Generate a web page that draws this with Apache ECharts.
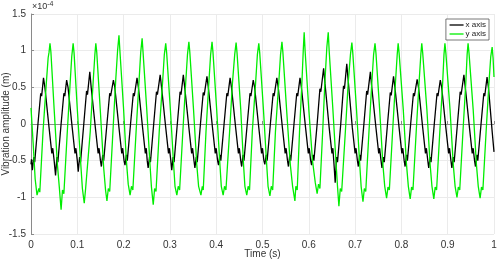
<!DOCTYPE html>
<html>
<head>
<meta charset="utf-8">
<script src="https://cdn.jsdelivr.net/npm/echarts@6/dist/echarts.min.js"></script>
<style>
  html, body { margin: 0; padding: 0; background: #fff; }
  #vib { width: 498px; height: 261px; }
</style>
</head>
<body>
<div id="vib"></div>
<script>
// amplitudes in units of 1e-4 m, [time (s), amplitude]
var xAxisSignal = [
  [0.000,-0.55],[0.001,-0.48],[0.003,-0.63],[0.006,-0.45],[0.008,-0.52],[0.015,0.0],[0.021,0.42],[0.023,0.38],[0.027,0.63],[0.030,0.5],[0.039,-0.05],[0.045,-0.4],[0.047,-0.33],[0.050,-0.5],
  [0.053,-0.70],[0.056,-0.45],[0.058,-0.52],[0.065,0.0],[0.071,0.42],[0.073,0.38],[0.077,0.60],[0.080,0.5],[0.089,-0.05],[0.095,-0.4],[0.097,-0.33],[0.100,-0.5],
  [0.102,-0.65],[0.105,-0.45],[0.107,-0.52],[0.114,0.0],[0.120,0.45],[0.122,0.40],[0.127,0.71],[0.130,0.5],[0.139,-0.05],[0.145,-0.4],[0.147,-0.33],[0.150,-0.5],
  [0.152,-0.58],[0.155,-0.42],[0.157,-0.5],[0.164,0.0],[0.170,0.42],[0.172,0.38],[0.178,0.60],[0.181,0.5],[0.190,-0.05],[0.196,-0.4],[0.198,-0.33],[0.201,-0.5],
  [0.203,-0.56],[0.206,-0.42],[0.208,-0.5],[0.215,0.0],[0.221,0.42],[0.223,0.38],[0.229,0.63],[0.232,0.5],[0.241,-0.05],[0.247,-0.4],[0.249,-0.33],[0.251,-0.5],
  [0.253,-0.60],[0.256,-0.45],[0.258,-0.52],[0.265,0.0],[0.271,0.44],[0.273,0.40],[0.279,0.67],[0.282,0.5],[0.291,-0.05],[0.297,-0.4],[0.299,-0.33],[0.302,-0.5],
  [0.304,-0.63],[0.307,-0.45],[0.309,-0.52],[0.316,0.0],[0.322,0.44],[0.324,0.40],[0.329,0.67],[0.332,0.5],[0.341,-0.05],[0.347,-0.4],[0.349,-0.33],[0.352,-0.5],
  [0.354,-0.60],[0.357,-0.45],[0.359,-0.52],[0.366,0.0],[0.372,0.43],[0.374,0.39],[0.380,0.65],[0.383,0.5],[0.392,-0.05],[0.398,-0.4],[0.400,-0.33],[0.403,-0.5],
  [0.405,-0.56],[0.408,-0.42],[0.410,-0.5],[0.417,0.0],[0.423,0.42],[0.425,0.38],[0.430,0.63],[0.433,0.5],[0.442,-0.05],[0.448,-0.4],[0.450,-0.33],[0.453,-0.5],
  [0.455,-0.58],[0.458,-0.42],[0.460,-0.5],[0.467,0.0],[0.473,0.42],[0.475,0.38],[0.480,0.60],[0.483,0.5],[0.492,-0.05],[0.498,-0.4],[0.500,-0.33],[0.503,-0.5],
  [0.505,-0.55],[0.508,-0.42],[0.510,-0.5],[0.517,0.0],[0.523,0.42],[0.525,0.38],[0.531,0.63],[0.534,0.5],[0.543,-0.05],[0.549,-0.4],[0.551,-0.33],[0.554,-0.5],
  [0.556,-0.58],[0.559,-0.42],[0.561,-0.5],[0.568,0.0],[0.574,0.42],[0.576,0.38],[0.581,0.63],[0.584,0.5],[0.593,-0.05],[0.599,-0.4],[0.601,-0.33],[0.604,-0.5],
  [0.606,-0.56],[0.609,-0.42],[0.611,-0.5],[0.618,0.0],[0.624,0.48],[0.626,0.44],[0.632,0.76],[0.635,0.55],[0.644,-0.05],[0.650,-0.4],[0.652,-0.33],[0.655,-0.6],
  [0.657,-0.80],[0.660,-0.45],[0.662,-0.52],[0.669,0.0],[0.675,0.52],[0.677,0.48],[0.682,0.82],[0.685,0.6],[0.694,-0.05],[0.700,-0.4],[0.702,-0.33],[0.705,-0.5],
  [0.707,-0.58],[0.710,-0.42],[0.712,-0.5],[0.719,0.0],[0.725,0.45],[0.727,0.40],[0.733,0.71],[0.736,0.5],[0.745,-0.05],[0.751,-0.4],[0.753,-0.33],[0.756,-0.5],
  [0.758,-0.60],[0.761,-0.45],[0.763,-0.52],[0.770,0.0],[0.776,0.43],[0.778,0.39],[0.783,0.65],[0.786,0.5],[0.795,-0.05],[0.801,-0.4],[0.803,-0.33],[0.806,-0.5],
  [0.808,-0.58],[0.811,-0.42],[0.813,-0.5],[0.820,0.0],[0.826,0.42],[0.828,0.38],[0.834,0.61],[0.837,0.5],[0.846,-0.05],[0.852,-0.4],[0.854,-0.33],[0.857,-0.5],
  [0.859,-0.60],[0.862,-0.45],[0.864,-0.52],[0.871,0.0],[0.877,0.42],[0.879,0.38],[0.884,0.60],[0.887,0.5],[0.896,-0.05],[0.902,-0.4],[0.904,-0.33],[0.907,-0.5],
  [0.909,-0.60],[0.912,-0.45],[0.914,-0.52],[0.921,0.0],[0.927,0.44],[0.929,0.40],[0.935,0.67],[0.938,0.5],[0.947,-0.05],[0.953,-0.4],[0.955,-0.33],[0.958,-0.5],
  [0.960,-0.58],[0.963,-0.42],[0.965,-0.5],[0.972,0.0],[0.978,0.42],[0.980,0.38],[0.985,0.64],[0.988,0.5],[0.996,-0.1],[1.000,-0.38]
];

var yAxisSignal = [
  [0.000,0.22],[0.005,-0.3],[0.009,-0.75],
  [0.013,-0.97],[0.017,-0.88],[0.019,-0.93],[0.026,-0.1],[0.033,0.55],[0.037,0.9],[0.039,0.98],[0.041,1.10],[0.043,0.98],[0.050,0.2],[0.057,-0.55],[0.061,-0.85],
  [0.065,-1.17],[0.068,-0.9],[0.071,-0.95],[0.078,-0.15],[0.084,0.5],[0.088,0.92],[0.091,1.10],[0.093,0.97],[0.100,0.2],[0.107,-0.5],[0.111,-0.88],
  [0.115,-1.08],[0.118,-0.88],[0.121,-0.9],[0.128,-0.1],[0.134,0.55],[0.138,0.95],[0.140,1.10],[0.142,0.98],[0.150,0.15],[0.157,-0.6],[0.161,-0.9],
  [0.164,-1.05],[0.167,-0.88],[0.170,-0.92],[0.177,-0.1],[0.183,0.6],[0.187,1.0],[0.190,1.21],[0.192,1.0],[0.200,0.2],[0.206,-0.5],[0.210,-0.82],
  [0.214,-0.97],[0.217,-0.85],[0.220,-0.9],[0.227,-0.1],[0.233,0.55],[0.237,0.98],[0.240,1.17],[0.242,0.98],[0.250,0.2],[0.257,-0.55],[0.260,-0.85],
  [0.264,-1.10],[0.267,-0.88],[0.270,-0.92],[0.277,-0.1],[0.284,0.55],[0.288,0.95],[0.291,1.10],[0.293,0.97],[0.301,0.2],[0.308,-0.55],[0.311,-0.85],
  [0.315,-0.97],[0.318,-0.85],[0.321,-0.9],[0.328,-0.1],[0.334,0.55],[0.338,0.95],[0.341,1.12],[0.343,0.98],[0.351,0.2],[0.358,-0.55],[0.362,-0.85],
  [0.367,-0.97],[0.370,-0.85],[0.372,-0.9],[0.378,-0.1],[0.384,0.55],[0.388,0.95],[0.391,1.12],[0.393,0.98],[0.401,0.2],[0.408,-0.55],[0.411,-0.85],
  [0.415,-0.97],[0.418,-0.85],[0.421,-0.9],[0.429,-0.1],[0.435,0.55],[0.440,0.95],[0.443,1.11],[0.445,0.97],[0.453,0.2],[0.459,-0.55],[0.462,-0.85],
  [0.466,-0.97],[0.469,-0.85],[0.472,-0.9],[0.478,-0.1],[0.485,0.55],[0.489,0.95],[0.492,1.10],[0.494,0.97],[0.502,0.2],[0.509,-0.55],[0.512,-0.85],
  [0.516,-0.98],[0.519,-0.85],[0.522,-0.9],[0.528,-0.1],[0.535,0.55],[0.539,0.95],[0.542,1.12],[0.544,0.98],[0.552,0.2],[0.560,-0.55],[0.565,-0.85],
  [0.570,-1.05],[0.572,-0.85],[0.575,-0.9],[0.580,-0.1],[0.585,0.55],[0.588,1.0],[0.590,1.25],[0.592,1.0],[0.600,0.2],[0.608,-0.5],[0.614,-0.8],
  [0.618,-0.95],[0.621,-0.82],[0.624,-0.88],[0.630,-0.1],[0.635,0.6],[0.639,1.05],[0.642,1.25],[0.644,1.0],[0.652,0.2],[0.659,-0.55],[0.662,-0.85],
  [0.665,-1.12],[0.668,-0.88],[0.671,-0.92],[0.679,-0.1],[0.685,0.55],[0.690,0.95],[0.693,1.11],[0.695,0.97],[0.703,0.2],[0.710,-0.55],[0.713,-0.85],
  [0.717,-1.06],[0.720,-0.88],[0.723,-0.92],[0.730,-0.1],[0.736,0.55],[0.740,0.95],[0.743,1.10],[0.745,0.97],[0.753,0.2],[0.760,-0.55],[0.764,-0.85],
  [0.768,-1.01],[0.771,-0.86],[0.774,-0.9],[0.781,-0.1],[0.787,0.55],[0.791,0.95],[0.793,1.10],[0.795,0.97],[0.804,0.2],[0.811,-0.55],[0.815,-0.85],
  [0.819,-1.02],[0.822,-0.86],[0.825,-0.9],[0.832,-0.1],[0.838,0.55],[0.842,0.95],[0.844,1.10],[0.846,0.97],[0.855,0.2],[0.862,-0.55],[0.866,-0.85],
  [0.870,-1.02],[0.873,-0.86],[0.876,-0.9],[0.883,-0.1],[0.889,0.55],[0.892,0.95],[0.894,1.10],[0.896,0.97],[0.905,0.2],[0.912,-0.55],[0.916,-0.85],
  [0.920,-1.00],[0.923,-0.86],[0.926,-0.9],[0.933,-0.1],[0.939,0.55],[0.942,0.95],[0.944,1.10],[0.946,0.97],[0.955,0.2],[0.962,-0.55],[0.966,-0.85],
  [0.970,-1.01],[0.973,-0.86],[0.976,-0.9],[0.983,-0.1],[0.989,0.55],[0.993,0.92],[0.996,1.05],[0.998,0.9],[1.000,0.64]
];

var seriesNames = ['x axis', 'y axis'];
var seriesColors = ['#000000', '#00ee00'];

var font = 'Liberation Sans, Arial, sans-serif';
var myChart = echarts.init(document.getElementById('vib'), null, { renderer: 'canvas' });

var option = {
    animation: false,
    backgroundColor: '#ffffff',
    textStyle: { fontFamily: font },
    grid: { left: 31, right: 4, top: 14, bottom: 27, containLabel: false, outerBoundsMode: 'none' },
    legend: {
        data: seriesNames,
        orient: 'vertical',
        right: 9,
        top: 19,
        itemWidth: 14,
        itemHeight: 6,
        itemGap: 1,
        padding: [2, 3, 2, 3],
        backgroundColor: '#ffffff',
        borderColor: '#555555',
        borderWidth: 0.8,
        borderRadius: 0,
        itemStyle: { opacity: 0 },
        lineStyle: { width: 1.3 },
        textStyle: { fontSize: 8, color: '#222', fontFamily: font, padding: [0, 0, 0, -3] }
    },
    xAxis: {
        type: 'value',
        min: 0,
        max: 1,
        interval: 0.1,
        name: 'Time (s)',
        nameLocation: 'middle',
        nameGap: 15,
        nameMoveOverlap: false,
        nameTextStyle: { fontSize: 10, color: '#333', fontFamily: font },
        axisLine: { lineStyle: { color: '#8a8a8a', width: 1 } },
        axisTick: { inside: true, length: 3, lineStyle: { color: '#8a8a8a' } },
        axisLabel: { fontSize: 10, color: '#333', margin: 6, fontFamily: font },
        splitLine: { show: true, lineStyle: { color: '#ebebeb', width: 1 } }
    },
    yAxis: {
        type: 'value',
        min: -1.5,
        max: 1.5,
        interval: 0.5,
        name: 'Vibration amplitude (m)',
        nameLocation: 'middle',
        nameGap: 20,
        nameRotate: 90,
        nameMoveOverlap: false,
        nameTextStyle: { fontSize: 10, color: '#333', fontFamily: font },
        axisLine: { show: true, onZero: false, lineStyle: { color: '#8a8a8a', width: 1 } },
        axisTick: { show: true, inside: true, length: 3, lineStyle: { color: '#8a8a8a' } },
        axisLabel: { fontSize: 10, color: '#333', margin: 5, fontFamily: font },
        splitLine: { show: true, lineStyle: { color: '#ebebeb', width: 1 } }
    },
    graphic: [{
        type: 'text',
        left: 32,
        top: 1,
        style: {
            text: '×10{sup|-4}',
            fill: '#333',
            font: '9px ' + font,
            rich: { sup: { fontSize: 7, fill: '#333', verticalAlign: 'top', padding: [0, 0, 5, 0] } }
        }
    }],
    series: [
        {
            name: seriesNames[0],
            type: 'line',
            data: xAxisSignal,
            symbol: 'none',
            color: seriesColors[0],
            lineStyle: { width: 1.3, color: seriesColors[0] },
            z: 2
        },
        {
            name: seriesNames[1],
            type: 'line',
            data: yAxisSignal,
            symbol: 'none',
            color: seriesColors[1],
            lineStyle: { width: 1.3, color: seriesColors[1] },
            z: 3
        }
    ]
};

myChart.setOption(option);
</script>
</body>
</html>
